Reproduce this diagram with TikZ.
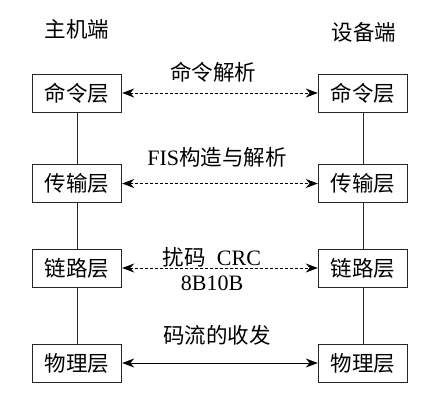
\documentclass[tikz,border=0pt]{standalone}
\usepackage{fontspec}
\setmainfont{Liberation Serif}
\newfontfamily\cjk{Noto Sans CJK SC}
\usetikzlibrary{arrows.meta}
\begin{document}
\begin{tikzpicture}[x=1pt,y=-1pt,
  layer/.style={draw=black!85,line width=0.9pt,minimum width=89.5pt,minimum height=38pt,inner sep=0pt,font=\cjk\fontsize{21.5}{24}\selectfont},
  lbl/.style={inner sep=0pt,font=\fontsize{22}{24}\selectfont},
  clbl/.style={inner sep=0pt,font=\cjk\fontsize{21.5}{24}\selectfont},
  link/.style={line width=0.8pt,black!85},
  arr/.style={line width=0.9pt,{Stealth[length=12pt,width=9pt]}-{Stealth[length=12pt,width=9pt]}},
  dsh/.style={dash pattern=on 3pt off 2pt}]
\useasboundingbox (0,0) rectangle (439,400);
\node[clbl] (host) at (77,29) {主机端};
\node[clbl] (dev) at (364,32) {设备端};

\node[layer] (l1) at (77,93) {命令层};
\node[layer] (l2) at (77,183.5) {传输层};
\node[layer] (l3) at (77,268) {链路层};
\node[layer] (l4) at (77,363) {物理层};
\node[layer] (r1) at (363,93) {命令层};
\node[layer] (r2) at (363,183.5) {传输层};
\node[layer] (r3) at (363,268) {链路层};
\node[layer] (r4) at (363,363) {物理层};

\draw[link] (l1) -- (l2) (l2) -- (l3) (l3) -- (l4);
\draw[link] (r1) -- (r2) (r2) -- (r3) (r3) -- (r4);

\draw[arr,dsh] (l1) -- (r1);
\draw[arr,dsh] (l2) -- (r2);
\draw[arr,dsh] (l3) -- (r3);
\draw[arr] (l4) -- (r4);

\node[clbl] (t1) at (213,72) {命令解析};
\node[lbl] (t2) at (217,157) {FIS{\cjk\fontsize{21.5}{24}\selectfont 构造与解析}};
\node[lbl] (t3) at (212,257) {{\cjk\fontsize{21.5}{24}\selectfont 扰码}\ \ CRC};
\node[lbl] (t4) at (212,283) {8B10B};
\node[clbl] (t5) at (217,335) {码流的收发};
\end{tikzpicture}
\end{document}
